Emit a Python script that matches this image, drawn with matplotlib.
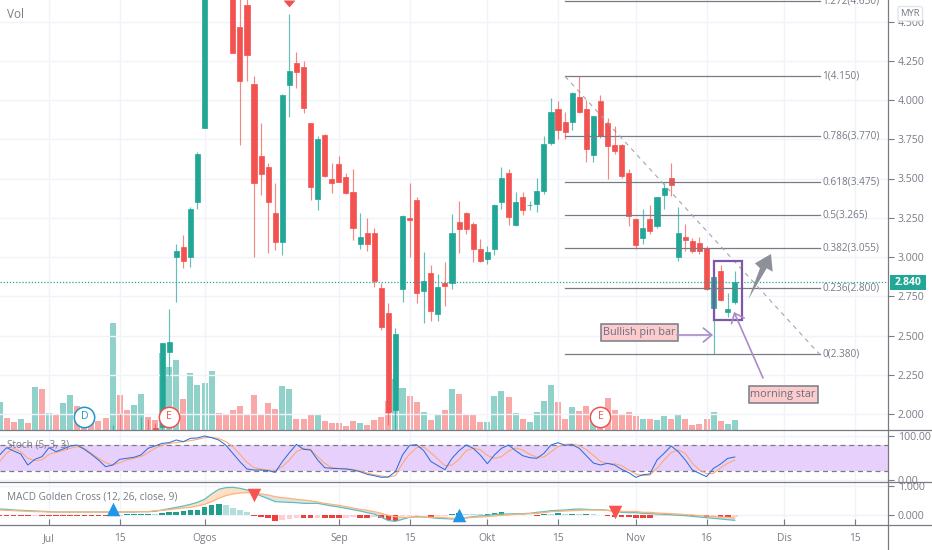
"""Candles with volume, stochastic and MACD panes, fib levels and chart notes."""
import numpy as np
import matplotlib
matplotlib.use("Agg")
import matplotlib.pyplot as plt
from matplotlib.lines import Line2D
from matplotlib.patches import Polygon, Rectangle, FancyBboxPatch

plt.rcParams["font.family"] = ["Open Sans", "DejaVu Sans"]

# bars run from index -7 to 97, index 0 is 1 Jul
first_bar = -7
opens = [1.84, 1.86, 1.85, 1.83, 1.85, 1.83, 1.86, 1.83, 1.85, 1.83,
         1.85, 1.87, 1.86, 1.85, 1.85, 1.85, 1.84, 1.88, 1.86, 1.85,
         1.86, 1.88, 1.91, 1.917, 2.397, 2.998, 3.064, 2.998, 3.348, 3.82,
         4.72, 5.10, 5.00, 4.85, 4.463, 4.605, 4.102, 3.643, 3.571, 3.282,
         3.097, 4.096, 4.234, 4.21, 3.852, 3.368, 3.779, 3.499, 3.592, 3.512,
         3.414, 3.085, 3.151, 3.151, 2.801, 2.641, 2.025, 2.796, 3.248, 3.363,
         2.785, 2.90, 2.637, 2.834, 2.836, 3.221, 3.28, 3.21, 3.051, 2.987,
         3.049, 3.348, 3.537, 3.204, 3.38, 3.329, 3.339, 3.422, 3.728, 3.941,
         3.86, 3.858, 4.019, 3.941, 3.65, 3.992, 3.852, 3.713, 3.713, 3.533,
         3.242, 3.121, 3.242, 3.197, 3.397, 3.501, 2.998, 3.129, 3.10, 3.089,
         3.055, 2.677, 2.911, 2.652, 2.715]
highs = [1.87, 1.87, 1.86, 1.86, 1.86, 1.87, 1.87, 1.86, 1.86, 1.87,
         1.88, 1.88, 1.87, 1.86, 1.86, 1.86, 1.93, 2.00, 1.88, 1.88,
         1.98, 1.97, 1.945, 2.452, 2.669, 3.083, 3.14, 3.32, 3.671, 4.80,
         5.00, 5.15, 5.05, 4.95, 4.70, 4.70, 4.151, 3.852, 3.597, 3.473,
         4.04, 4.546, 4.308, 4.248, 3.852, 3.771, 3.785, 3.601, 3.643, 3.533,
         3.561, 3.28, 3.248, 3.183, 2.836, 2.705, 2.546, 3.27, 3.473, 3.38,
         3.03, 2.947, 2.892, 2.97, 3.272, 3.355, 3.285, 3.221, 3.113, 3.07,
         3.335, 3.571, 3.559, 3.412, 3.412, 3.357, 3.501, 3.771, 4.013, 3.992,
         3.922, 4.051, 4.15, 4.00, 3.90, 4.032, 3.883, 3.834, 3.72, 3.559,
         3.247, 3.304, 3.331, 3.385, 3.473, 3.597, 3.32, 3.21, 3.123, 3.125,
         3.07, 2.875, 2.949, 2.773, 2.911]
lows = [1.82, 1.83, 1.82, 1.82, 1.83, 1.82, 1.82, 1.81, 1.82, 1.82,
        1.84, 1.84, 1.83, 1.83, 1.83, 1.82, 1.83, 1.84, 1.84, 1.84,
        1.85, 1.85, 1.85, 1.90, 2.242, 2.715, 2.93, 2.938, 3.304, 3.82,
        4.68, 4.90, 4.70, 4.30, 3.713, 4.121, 3.002, 3.395, 3.027, 3.045,
        3.013, 3.894, 4.075, 3.915, 3.363, 3.299, 3.51, 3.41, 3.475, 3.40,
        3.108, 3.049, 3.038, 2.807, 2.535, 1.93, 1.90, 2.715, 2.998, 2.709,
        2.578, 2.594, 2.594, 2.688, 2.796, 3.027, 3.146, 2.966, 2.97, 2.955,
        3.013, 3.306, 3.204, 3.196, 3.268, 3.299, 3.289, 3.399, 3.715, 3.75,
        3.75, 3.809, 3.915, 3.607, 3.607, 3.758, 3.497, 3.654, 3.505, 3.197,
        3.049, 3.085, 3.146, 3.187, 3.306, 3.389, 2.975, 3.036, 3.027, 3.017,
        2.79, 2.38, 2.72, 2.62, 2.699]
closes = [1.86, 1.84, 1.83, 1.85, 1.84, 1.86, 1.83, 1.85, 1.83, 1.86,
          1.87, 1.85, 1.84, 1.84, 1.84, 1.83, 1.88, 1.85, 1.85, 1.87,
          1.88, 1.86, 1.897, 2.452, 2.46, 3.04, 2.976, 3.304, 3.654, 4.72,
          4.95, 4.95, 4.75, 4.301, 4.121, 4.289, 3.469, 3.529, 3.348, 3.097,
          4.032, 4.185, 4.178, 3.951, 3.448, 3.752, 3.518, 3.469, 3.48, 3.41,
          3.187, 3.127, 3.085, 2.847, 2.556, 2.015, 2.51, 3.261, 3.236, 2.769,
          2.849, 2.656, 2.811, 2.817, 3.151, 3.178, 3.178, 3.049, 2.976, 3.03,
          3.331, 3.501, 3.257, 3.352, 3.299, 3.329, 3.422, 3.72, 3.922, 3.809,
          3.798, 4.043, 3.925, 3.688, 3.898, 3.771, 3.709, 3.677, 3.518, 3.263,
          3.076, 3.187, 3.168, 3.38, 3.438, 3.459, 3.151, 3.108, 3.038, 3.038,
          2.796, 2.871, 2.726, 2.669, 2.84]
volumes = [28, 12, 8, 11, 7, 43, 41, 17, 16, 27,
           35, 24, 14, 10, 9, 12, 107, 35, 20, 25,
           36, 13, 10, 77, 63, 70, 31, 57, 45, 47,
           59, 17, 16, 20, 24, 15, 35, 16, 27, 21,
           44, 41, 11, 11, 16, 15, 9, 7, 7, 4,
           9, 7, 5, 10, 13, 29, 51, 42, 34, 28,
           18, 10, 15, 20, 41, 36, 15, 15, 8, 8,
           34, 39, 33, 17, 11, 8, 18, 29, 45, 28,
           11, 23, 19, 24, 17, 13, 32, 20, 15, 18,
           14, 11, 11, 10, 14, 11, 15, 11, 5, 6,
           11, 18, 9, 6, 10]

stoch_k = [56.8, 73.5, 65.9, 59.1, 34, 47, 53, 73.5, 64.4, 70.5,
           77.3, 79.5, 69.7, 58.3, 45.5, 30.3, 34, 47, 49.3, 51.5,
           56.8, 72, 77.3, 83.3, 84.9, 90.9, 87.1, 94.7, 95.5, 100,
           96.2, 90.9, 79.5, 60.6, 41.7, 25, 22.7, 22.7, 21.2, 17.4,
           41.7, 62.1, 81, 69.7, 68.2,
           45.5, 28, 26.5, 25.8, 25, 22.7, 18.9, 12.9, 9.8, 6.1,
           6.8, 18.9, 56.8, 78.8, 80.3, 66.7, 42.4, 32.6, 23.5, 49.2,
           66.7, 79.6, 72, 56.8, 37.1, 56.8, 72, 79.6, 66.7, 55.3,
           50.8, 49.2, 60.6, 79.6, 84.8, 78.8, 80.3, 72, 55.3, 38.6,
           34.1, 37.9, 34.1, 24.2,
           16.7, 6.1, 12.1, 13.6, 45.5, 60.6, 77.3, 64.4, 45.5, 22.7,
           15.1, 7.6, 26.5, 36.4, 49.2, 52.3]
stoch_d = [41.7, 60.6, 72, 64.4, 49.3, 44, 45.5, 58.3, 62.9, 66.7,
           72, 75.8, 72, 60.6, 49.3, 39.4, 34, 39.4, 45.5, 49.3,
           53, 62.1, 72, 79.5, 83.3, 84.9, 87.1, 89.4, 92.4, 96.2,
           97, 94.7, 87.1, 75.8, 58.3, 40.2, 28, 25, 22.7, 22,
           30.3, 45.5, 64.4, 72, 69.7,
           53, 37.9, 28, 26.5, 25.8, 24.2, 20.4, 15.9, 12.1, 9.1,
           6.8, 9.8, 37.9, 59.1, 73.5, 75, 62.1, 47.7, 32.6, 34.1,
           47, 66.7, 72, 68.9, 56, 49.2, 53, 65.9, 72.7, 68.2,
           58.3, 52.3, 52.3, 63.6, 75.8, 81, 81.8, 78, 68.9, 56,
           42.4, 37.1, 37.1, 32.6,
           22.7, 13.6, 9.8, 11.4, 26.5, 45.5, 62.1, 68.2, 60.6, 37.9,
           22.7, 14.4, 15.1, 28, 37.9, 45.5]

macd_line = [.207, .195, .172, .161, .149, .138, .126, .115, .103, .103,
             .103, .103, .103, .103, .103, .103, .103, .103, .103, .103,
             .115, .115, .126, .172, .218, .264, .31, .368, .437, .54,
             .724, .885, .943, .954, .92, .862, .77, .655, .563, .46,
             .448, .437, .425, .402, .40,
             .402, .356, .31, .276, .23, .184, .138, .08, .034, -.08,
             -.195, -.218, -.149, -.08, -.057, -.069, -.092, -.115, -.126, -.138,
             -.138, -.092, -.057, -.034, -.011, .011, .034, .034, .046, .046,
             .057, .092, .115, .149, .161, .172, .195, .207, .195, .184,
             .184, .161, .126, .092, .08, .08, .057, .046, .034, .023,
             .011, -.011, -.023, -.046, -.069, -.092, -.115, -.138, -.161, -.184]
macd_signal = [.172, .161, .149, .138, .126, .115, .115, .103, .103, .103,
               .103, .103, .103, .103, .103, .103, .103, .103, .115, .115,
               .115, .115, .149, .161, .184, .218, .241, .264, .31, .368,
               .46, .575, .667, .724, .759, .77, .77, .724, .69, .632,
               .598, .575, .54, .517, .49,
               .448, .402, .368, .333, .287, .241, .195, .161, .115, .057,
               -.011, -.057, -.08, -.08, -.069, -.069, -.08, -.08, -.092, -.115,
               -.115, -.103, -.08, -.069, -.057, -.034, -.011, 0, .023, .034,
               .046, .057, .08, .115, .126, .138, .149, .161, .172, .172,
               .172, .161, .149, .126, .115, .126, .092, .092, .069, .057,
               .046, .034, .011, 0, -.023, -.034, -.057, -.069, -.08, -.103]
macd_hist = [-.02, -.03, -.05, -.05, -.05, -.02, -.02, -.02, -.02, -.02,
             -.02, -.03, -.03, -.03, -.03, -.03, -.03, -.02, .034, .034,
             .034, .034, .03, .057, .092, .115, .149, .161, .184, .287,
             .333, .368, .333, .241, .172, .103, -.034, -.057, -.115, -.195,
             -.172, -.138, -.103, -.103, -.115,
             -.09, -.10, -.11, -.12, -.10, -.08, -.10, -.12, -.08, -.10,
             -.16, -.20, -.05, -.03, -.02, .01, -.08, -.03, -.02, .04,
             .07, .05, .04, .03, .03, .08, .10, .05, .03, .02,
             .01, -.03, .05, .03, .07, .05, .05, .03, .03, .02,
             .01, -.04, -.07, -.08, -.08, -.09, -.10, -.10, -.05, -.04,
             -.03, -.02, -.05, -.05, -.04, -.06, -.05, -.07, -.08, -.06]

fib_ratios = ["1.272", "1", "0.786", "0.618", "0.5", "0.382", "0.236", "0"]
fib_prices = [4.630, 4.150, 3.770, 3.475, 3.265, 3.055, 2.800, 2.380]
fib_start, fib_end = 73, 109
last_price = 2.840

event_bars = [5, 17, 78]
event_labels = ["D", "E", "E"]
cross_up_bars = [9, 58]
cross_up_vals = [0.19, 0.0]
cross_down_bars = [29, 80]
cross_down_vals = [0.69, 0.10]
peak_bar = 34
peak_price = 4.637

price_ticks = [2.0, 2.25, 2.5, 2.75, 3.0, 3.25, 3.5, 3.75, 4.0, 4.25, 4.5]
time_ticks = [0, 10, 22, 41, 51, 62, 72, 83, 93, 104, 114]
time_labels = ["Jul", "15", "Ogos", "Sep", "15", "Okt", "15", "Nov", "16", "Dis", "15"]

UP, DOWN = "#22a696", "#f25350"
GRAY, GRID = "#787b86", "#f1f3fa"
W, H = 932, 550
AXIS_X = 888
XLIM = (-49 / 7.07, (AXIS_X - 49) / 7.07)

bars = np.arange(first_bar, first_bar + len(closes))
o, c, hi, lo = map(np.array, (opens, closes, highs, lows))
is_up = c >= o


def pane(top, bottom, ylim, zorder=1):
    ax = fig.add_axes([0, 1 - bottom / H, AXIS_X / W, (bottom - top) / H], zorder=zorder)
    ax.set_xlim(*XLIM)
    ax.set_ylim(*ylim)
    ax.patch.set_alpha(0)
    for s in ax.spines.values():
        s.set_visible(False)
    ax.set_xticks(time_ticks)
    ax.tick_params(axis="x", length=0, labelbottom=False)
    ax.yaxis.tick_right()
    ax.tick_params(axis="y", length=4, width=0.8, color=GRAY, labelcolor=GRAY, labelsize=7.6, pad=3)
    ax.grid(True, color=GRID, lw=1)
    ax.set_axisbelow(True)
    return ax


fig = plt.figure(figsize=(W / 100, H / 100), dpi=100, facecolor="white")

# ── Volume + candles ──────────────────────────────────────────────────────────
ax_vol = pane(0, 430, (0, 430), zorder=1)
ax_vol.grid(False)
ax_vol.set_yticks([])
ax_vol.bar(bars, volumes, width=0.85, color=[UP if u else DOWN for u in is_up], alpha=0.5, lw=0)

ax = pane(0, 430, (4 - 330 / 157, 4 + 100 / 157), zorder=2)
ax.set_yticks(price_ticks)
ax.set_yticklabels([f"{p:.3f}" for p in price_ticks])
colors = np.where(is_up, UP, DOWN)
ax.vlines(bars, lo, hi, colors=colors, lw=0.85, alpha=0.7)
ax.bar(bars, np.abs(c - o), bottom=np.minimum(o, c), width=0.72, color=colors, edgecolor=colors, lw=0.5)
ax.axhline(last_price, color=UP, lw=0.9, ls=(0, (1, 1.5)))
ax.scatter([peak_bar], [peak_price], marker=[(-0.86, 0), (0.86, 0), (0, -1)], s=100, color="#ef5350", lw=0, zorder=5)
ax.text(7 / AXIS_X, 1 - 14 / 430, "Vol", transform=ax.transAxes, color=GRAY, fontsize=8.5, va="center")

# fib levels
for ratio, price in zip(fib_ratios, fib_prices):
    ax.plot([fib_start, fib_end], [price, price], color=GRAY, lw=0.9, zorder=1.5)
    ax.text(fib_end + 0.35, price, f"{ratio}({price:.3f})", color=GRAY, fontsize=7.2, va="center", clip_on=True)
ax.plot([fib_start, fib_end], [fib_prices[1], fib_prices[-1]], color="#a3a6af", lw=0.8, ls=(0, (4, 4)), zorder=1.5)

# morning star box
ax.add_patch(Rectangle((94, 2.60), 4.05, 0.375, fill=False, ec="#7e57a6", lw=1.6, zorder=6))

ax_ev = pane(0, 430, (0, 430), zorder=3)
ax_ev.grid(False)
ax_ev.set_yticks([])
ax_ev.tick_params(axis="x", length=0)
for b, lab in zip(event_bars, event_labels):
    col = "#2196c8" if lab == "D" else "#ef5350"
    ax_ev.scatter([b + 0.0], [13.5], s=215, facecolor="white", edgecolor=col, lw=1.1, zorder=5)
    ax_ev.text(b, 13.5, lab, color=col, fontsize=7.5, ha="center", va="center", zorder=6)

# ── Stochastic ────────────────────────────────────────────────────────────────
ax_st = pane(430, 482.3, ((480 - 482.3) / 0.44, (480 - 430) / 0.44))
ax_st.set_yticks([0, 100])
ax_st.set_yticklabels(["0.00", "100.00"])
ax_st.axhspan(20, 80, color="#e8d0fc", lw=0)
ax_st.axhline(80, color=GRAY, lw=0.9, ls=(0, (4, 3)))
ax_st.axhline(20, color=GRAY, lw=0.9, ls=(0, (4, 3)))
ax_st.plot(bars, stoch_d, color="#ffa76a", lw=0.75)
ax_st.plot(bars, stoch_k, color="#2f6fd8", lw=0.75)
ax_st.text(7 / AXIS_X, 0.72, "Stoch (5, 3, 3)", transform=ax_st.transAxes, color=GRAY, fontsize=7.2, va="center")

# ── MACD ──────────────────────────────────────────────────────────────────────
ax_m = pane(482.3, 525, ((515 - 525) / 29, (515 - 482.3) / 29))
ax_m.set_yticks([0, 1])
ax_m.set_yticklabels(["0.000", "1.000"])
ml, ms = np.array(macd_line), np.array(macd_signal)
ax_m.fill_between(bars, ml, ms, where=ml >= ms, interpolate=True, color="#fde0c6", lw=0)
ax_m.fill_between(bars, ml, ms, where=ml < ms, interpolate=True, color="#dfe1e3", lw=0)
hist = np.array(macd_hist)
prev = np.r_[hist[0], hist[:-1]]
hist_colors = [("#1f9e8e" if h >= p else "#b2dfdb") if h >= 0 else ("#ef3f3c" if h <= p else "#ffcdd2")
               for h, p in zip(hist, prev)]
ax_m.bar(bars, hist, width=0.8, color=hist_colors, lw=0)
ax_m.plot(bars, ml, color="#5fbfbe", lw=0.9)
ax_m.plot(bars, ms, color="#ffb27a", lw=0.9)
ax_m.scatter(cross_up_bars, cross_up_vals, marker="^", s=95, color="#2196e8", lw=0, zorder=5)
ax_m.scatter(cross_down_bars, cross_down_vals, marker="v", s=95, color="#f9534f", lw=0, zorder=5)
ax_m.text(7 / AXIS_X, 0.66, "MACD Golden Cross (12, 26, close, 9)", transform=ax_m.transAxes, color=GRAY, fontsize=7.2, va="center")

# time axis
ax_t = pane(525, 550, (0, 1))
ax_t.grid(False)
ax_t.set_yticks([])
ax_t.set_xticks(time_ticks)
ax_t.set_xticklabels(time_labels)
ax_t.xaxis.tick_top()
ax_t.tick_params(axis="x", length=4, width=0.8, color=GRAY, top=True, labeltop=False)
for t, lab in zip(time_ticks, time_labels):
    ax_t.text(t, 0.46, lab, color=GRAY, fontsize=7.4, ha="center", va="center")

# ── Overlay in pixel units: pane borders, callouts, price tag ─────────────────
ov = fig.add_axes([0, 0, 1, 1], zorder=10)
ov.set_xlim(0, W)
ov.set_ylim(H, 0)
ov.axis("off")
for y in (430, 482.3, 525):
    ov.add_line(Line2D([0, W], [y, y], color=GRAY, lw=0.9))
ov.add_line(Line2D([AXIS_X, AXIS_X], [0, H], color=GRAY, lw=0.9))

ov.add_patch(Rectangle((890, 275), 36, 15, fc=UP, ec=UP, lw=0))
ov.text(908, 282.3, f"{last_price:.3f}", color="white", fontsize=7.6, fontweight="bold", ha="center", va="center")

ov.add_patch(FancyBboxPatch((898, 6.5), 24.5, 14.5, boxstyle="round,pad=0,rounding_size=2", fc="white", ec="#dfe2ea", lw=0.9))
ov.text(910, 14, "MYR", color=GRAY, fontsize=6.8, ha="center", va="center")

ov.add_patch(Polygon([(748.3, 299.3), (760, 268.3), (755, 263.3), (771, 254), (772.7, 271.7), (766.7, 268.3)],
                     closed=True, fc="#8d9099", ec="none"))

NOTE = "#a98bc9"
ov.annotate("", xy=(713, 335), xytext=(677, 335),
            arrowprops=dict(arrowstyle="->,head_length=0.6,head_width=0.5", color=NOTE, lw=1.2, shrinkA=0, shrinkB=0))
ov.annotate("", xy=(734, 312), xytext=(763, 378),
            arrowprops=dict(arrowstyle="->,head_length=0.6,head_width=0.5", color=NOTE, lw=1.2, shrinkA=0, shrinkB=0))
for (x, y, w, h, lab) in [(600.5, 324, 77, 17, "Bullish pin bar"), (748.5, 386, 69, 17, "morning star")]:
    ov.add_patch(Rectangle((x, y), w, h, fc="#fccccc", ec=GRAY, lw=1.1))
    ov.text(x + w / 2, y + h / 2, lab, color="#6b6d85", fontsize=7.8, ha="center", va="center")

fig.savefig("out.png", dpi=100)
